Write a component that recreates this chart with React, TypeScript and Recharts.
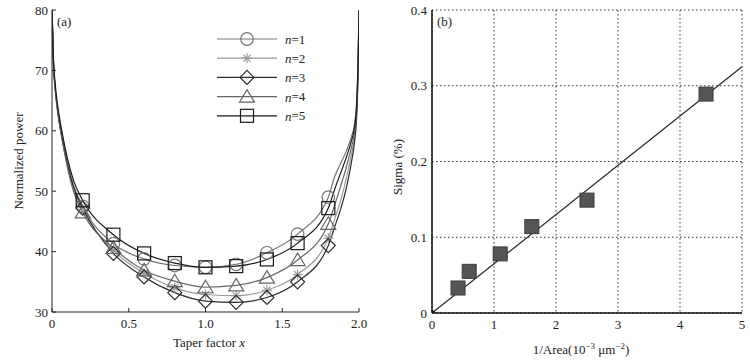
import React from 'react';
import { ComposedChart, Line, Scatter, XAxis, YAxis, CartesianGrid, Legend } from 'recharts';

// ---------- Panel (a) data ----------
const TAPER_X = [0, 0.01, 0.02, 0.035, 0.05, 0.075, 0.1, 0.14, 0.2, 0.4, 0.6, 0.8, 1.0, 1.2, 1.4, 1.6, 1.8, 1.84, 1.88, 1.92, 1.95, 1.97, 1.985, 1.995, 2.0];
const N1 = [80, 71, 67.3, 63.8, 61.2, 57.8, 54.8, 51, 47.5, 41.3, 38.8, 37.7, 37.4, 37.9, 39.8, 42.9, 49.0, 52.3, 54.6, 56.8, 59, 61, 65, 73, 80];
const N2 = [80, 71, 67.3, 63.8, 61.1, 57.6, 54.5, 50.6, 47.0, 40.2, 36.4, 34.0, 32.9, 32.7, 33.6, 36.2, 42.2, 45.3, 48.4, 52.4, 56, 58.8, 63, 71.5, 80];
const N3 = [80, 71, 67.3, 63.8, 61.1, 57.6, 54.5, 50.7, 47.2, 39.7, 35.8, 33.2, 31.8, 31.6, 32.4, 35.0, 41.0, 44, 47, 50.8, 54.7, 58, 62.5, 71, 80];
const N4 = [80, 70.8, 67, 63.4, 60.8, 57.2, 54, 50, 46.5, 40.6, 36.9, 35.1, 34.1, 34.4, 35.7, 38.6, 44.6, 47.6, 50.8, 54.2, 57.2, 59.6, 63.8, 72, 80];
const N5 = [80, 71.5, 68, 64.5, 62, 58.5, 55.5, 51.8, 48.5, 42.8, 39.7, 38.1, 37.4, 37.6, 38.7, 41.4, 47.2, 50.2, 53, 55.8, 58.3, 60.5, 64.5, 72.5, 80];
const MARKER_X = [0.2, 0.4, 0.6, 0.8, 1.0, 1.2, 1.4, 1.6, 1.8];
const LEFT_X_TICKS = [0, 0.5, 1.0, 1.5, 2.0];
const LEFT_X_LABELS = ['0', '0.5', '1.0', '1.5', '2.0'];
const LEFT_Y_TICKS = [30, 40, 50, 60, 70, 80];

// ---------- Panel (b) data ----------
const AREA_X = [0.42, 0.6, 1.1, 1.61, 2.5, 4.42];
const SIGMA = [0.033, 0.055, 0.078, 0.114, 0.149, 0.289];
const FIT_X = [0, 5];
const FIT_Y = [0, 0.325];
const RIGHT_X_TICKS = [0, 1, 2, 3, 4, 5];
const RIGHT_Y_TICKS = [0, 0.1, 0.2, 0.3, 0.4];

type Shape = 'circle' | 'star' | 'diamond' | 'triangle' | 'square';
const SERIES: { key: string; label: string; values: number[]; color: string; shape: Shape }[] = [
  { key: 'n1', label: '1', values: N1, color: '#767676', shape: 'circle' },
  { key: 'n2', label: '2', values: N2, color: '#9a9a9a', shape: 'star' },
  { key: 'n3', label: '3', values: N3, color: '#2c2c2c', shape: 'diamond' },
  { key: 'n4', label: '4', values: N4, color: '#666666', shape: 'triangle' },
  { key: 'n5', label: '5', values: N5, color: '#1a1a1a', shape: 'square' },
];

const taperData = TAPER_X.map((x, i) => {
  const row: Record<string, number> = { x };
  SERIES.forEach((s) => (row[s.key] = s.values[i]));
  return row;
});
const sigmaData = AREA_X.map((x, i) => ({ x, y: SIGMA[i] }));
const fitData = FIT_X.map((x, i) => ({ x, y: FIT_Y[i] }));

const FONT = "'Liberation Serif', 'Times New Roman', serif";
const AX = '#222';

function Marker({ shape, cx, cy, color }: { shape: Shape; cx: number; cy: number; color: string }) {
  const sw = 1.2;
  switch (shape) {
    case 'circle':
      return <circle cx={cx} cy={cy} r={6.3} fill="none" stroke={color} strokeWidth={sw} />;
    case 'star':
      return (
        <g stroke={color} strokeWidth={sw}>
          <line x1={cx - 5} x2={cx + 5} y1={cy} y2={cy} />
          <line x1={cx} x2={cx} y1={cy - 5} y2={cy + 5} />
          <line x1={cx - 3.6} y1={cy - 3.6} x2={cx + 3.6} y2={cy + 3.6} />
          <line x1={cx - 3.6} y1={cy + 3.6} x2={cx + 3.6} y2={cy - 3.6} />
        </g>
      );
    case 'diamond':
      return (
        <polygon
          points={`${cx},${cy - 7} ${cx + 7},${cy} ${cx},${cy + 7} ${cx - 7},${cy}`}
          fill="none"
          stroke={color}
          strokeWidth={sw}
        />
      );
    case 'triangle':
      return (
        <polygon
          points={`${cx},${cy - 7} ${cx + 7.5},${cy + 5.5} ${cx - 7.5},${cy + 5.5}`}
          fill="none"
          stroke={color}
          strokeWidth={sw}
        />
      );
    default:
      return <rect x={cx - 6.5} y={cy - 6.5} width={13} height={13} fill="none" stroke={color} strokeWidth={sw} />;
  }
}

const isMarker = (x: number) => MARKER_X.some((m) => Math.abs(m - x) < 1e-6);

// ---- ticks (inward tick lines) ----
const LeftYTick = (p: any) => (
  <g>
    <text x={p.x} y={p.y} textAnchor="end" dominantBaseline="central" fontFamily={FONT} fontSize={13} fill={AX}>
      {p.payload.value}
    </text>
    <line x1={p.x + 4} x2={p.x + 8} y1={p.y} y2={p.y} stroke={AX} />
  </g>
);
const LeftXTick = (p: any) => {
  const idx = LEFT_X_TICKS.findIndex((t) => Math.abs(t - p.payload.value) < 1e-9);
  return (
    <g>
      <text x={p.x} y={p.y} dy="0.75em" textAnchor="middle" fontFamily={FONT} fontSize={13} fill={AX}>
        {idx >= 0 ? LEFT_X_LABELS[idx] : p.payload.value}
      </text>
      <line x1={p.x} x2={p.x} y1={p.y - 6} y2={p.y - 10} stroke={AX} />
    </g>
  );
};
const TopTick = (p: any) => <line x1={p.x} x2={p.x} y1={p.y} y2={p.y + 4} stroke={AX} />;
const RightTick = (p: any) => <line x1={p.x} x2={p.x - 4} y1={p.y} y2={p.y} stroke={AX} />;

const RYTick = (p: any) => (
  <text x={p.x} y={p.y} textAnchor="end" dominantBaseline="central" fontFamily={FONT} fontSize={13} fill={AX}>
    {p.payload.value === 0 ? '0' : Number(p.payload.value).toFixed(1)}
  </text>
);
const RXTick = (p: any) => (
  <text x={p.x} y={p.y} dy="0.75em" textAnchor="middle" fontFamily={FONT} fontSize={13} fill={AX}>
    {p.payload.value}
  </text>
);

const LegendBox = () => (
  <svg width={100} height={100} style={{ display: 'block' }}>
    {SERIES.map((s, i) => {
      const y = 11 + i * 19.2;
      return (
        <g key={s.key}>
          <line x1={7} x2={67} y1={y} y2={y} stroke={s.color} strokeWidth={1.2} />
          <Marker shape={s.shape} cx={37} cy={y} color={s.color} />
          <text x={75} y={y} dominantBaseline="central" fontFamily={FONT} fontSize={13} fill={AX}>
            <tspan fontStyle="italic">n</tspan>={s.label}
          </text>
        </g>
      );
    })}
  </svg>
);

export default function App() {
  return (
    <div style={{ position: 'absolute', left: 0, top: 0, width: 750, height: 361, background: '#fff' }}>
      <div style={{ position: 'absolute', left: 0, top: 0 }}>
        <ComposedChart width={375} height={361} data={taperData} margin={{ top: 10, right: 16, bottom: 0, left: 0 }}>
          <XAxis
            dataKey="x"
            type="number"
            domain={[0, 2]}
            ticks={LEFT_X_TICKS}
            allowDataOverflow
            height={49}
            tickLine={false}
            tickSize={0}
            tickMargin={6}
            tick={<LeftXTick />}
            axisLine={{ stroke: AX }}
          />
          <XAxis
            xAxisId="top"
            orientation="top"
            type="number"
            domain={[0, 2]}
            ticks={LEFT_X_TICKS}
            allowDataOverflow
            height={0}
            tickLine={false}
            tickSize={0}
            tickMargin={0}
            tick={<TopTick />}
            axisLine={{ stroke: AX }}
          />
          <YAxis
            type="number"
            domain={[30, 80]}
            ticks={LEFT_Y_TICKS}
            allowDataOverflow
            width={52}
            tickLine={false}
            tickSize={0}
            tickMargin={4}
            tick={<LeftYTick />}
            axisLine={{ stroke: AX }}
          />
          <YAxis
            yAxisId="right"
            orientation="right"
            type="number"
            domain={[30, 80]}
            ticks={LEFT_Y_TICKS}
            allowDataOverflow
            width={0}
            tickLine={false}
            tickSize={0}
            tickMargin={0}
            tick={<RightTick />}
            axisLine={{ stroke: AX }}
          />
          {SERIES.map((s) => (
            <Line
              key={s.key}
              dataKey={s.key}
              type="monotone"
              stroke={s.color}
              strokeWidth={1.2}
              isAnimationActive={false}
              dot={(p: any) =>
                isMarker(p.payload.x) ? (
                  <Marker key={`${s.key}-${p.index}`} shape={s.shape} cx={p.cx} cy={p.cy} color={s.color} />
                ) : (
                  <g key={`${s.key}-${p.index}`} />
                )
              }
              activeDot={false}
            />
          ))}
          <Legend
            layout="horizontal"
            verticalAlign="middle"
            align="center"
            content={<LegendBox />}
            wrapperStyle={{ position: 'absolute', left: 210, top: 28, width: 100, height: 100 }}
          />
          <text x={57} y={21} dominantBaseline="central" fontFamily={FONT} fontSize={13} fill={AX}>
            (a)
          </text>
          <text
            x={18}
            y={161}
            transform="rotate(-90 18 161)"
            textAnchor="middle"
            dominantBaseline="central"
            fontFamily={FONT}
            fontSize={13}
            fill={AX}
          >
            Normalized power
          </text>
          <text x={209} y={347} textAnchor="middle" fontFamily={FONT} fontSize={13} fill={AX}>
            Taper factor <tspan fontStyle="italic">x</tspan>
          </text>
        </ComposedChart>
      </div>

      <div style={{ position: 'absolute', left: 375, top: 0 }}>
        <ComposedChart width={375} height={361} margin={{ top: 10, right: 8, bottom: 0, left: 0 }}>
          <CartesianGrid stroke="#333" strokeDasharray="1.5 2.5" />
          <XAxis
            dataKey="x"
            type="number"
            domain={[0, 5]}
            ticks={RIGHT_X_TICKS}
            allowDataOverflow
            height={48}
            tickLine={false}
            tickSize={0}
            tickMargin={6}
            tick={<RXTick />}
            axisLine={{ stroke: '#111', strokeWidth: 1.5 }}
          />
          <XAxis
            xAxisId="top"
            orientation="top"
            type="number"
            domain={[0, 5]}
            ticks={RIGHT_X_TICKS}
            allowDataOverflow
            height={0}
            tickLine={false}
            tick={false}
            axisLine={{ stroke: '#111', strokeWidth: 1.5 }}
          />
          <YAxis
            type="number"
            domain={[0, 0.4]}
            ticks={RIGHT_Y_TICKS}
            allowDataOverflow
            width={57}
            tickLine={false}
            tickSize={0}
            tickMargin={5}
            tick={<RYTick />}
            axisLine={{ stroke: '#111', strokeWidth: 1.5 }}
          />
          <YAxis
            yAxisId="right"
            orientation="right"
            type="number"
            domain={[0, 0.4]}
            ticks={RIGHT_Y_TICKS}
            allowDataOverflow
            width={0}
            tickLine={false}
            tick={false}
            axisLine={{ stroke: '#111', strokeWidth: 1.5 }}
          />
          <Line
            data={fitData}
            dataKey="y"
            type="linear"
            stroke="#222"
            strokeWidth={1.2}
            isAnimationActive={false}
            dot={(p: any) =>
              p.index === 0 ? (
                <circle key={`fit-${p.index}`} cx={p.cx} cy={p.cy} r={2.8} fill="#111" />
              ) : (
                <g key={`fit-${p.index}`} />
              )
            }
            activeDot={false}
          />
          <Scatter
            data={sigmaData}
            dataKey="y"
            isAnimationActive={false}
            shape={(p: any) => (
              <rect x={p.cx - 7} y={p.cy - 7} width={14} height={14} fill="#555" stroke="#3a3a3a" strokeWidth={1} />
            )}
          />
          <text x={62} y={21} dominantBaseline="central" fontFamily={FONT} fontSize={13} fill={AX}>
            (b)
          </text>
          <text
            x={22}
            y={167}
            transform="rotate(-90 22 167)"
            textAnchor="middle"
            dominantBaseline="central"
            fontFamily={FONT}
            fontSize={13}
            fill={AX}
          >
            Sigma (%)
          </text>
          <text x={206} y={354} textAnchor="middle" fontFamily={FONT} fontSize={13} fill={AX}>
            1/Area(10
            <tspan dy={-5} fontSize={9}>
              −3
            </tspan>
            <tspan dy={5}> μm</tspan>
            <tspan dy={-5} fontSize={9}>
              −2
            </tspan>
            <tspan dy={5}>)</tspan>
          </text>
        </ComposedChart>
      </div>
    </div>
  );
}
